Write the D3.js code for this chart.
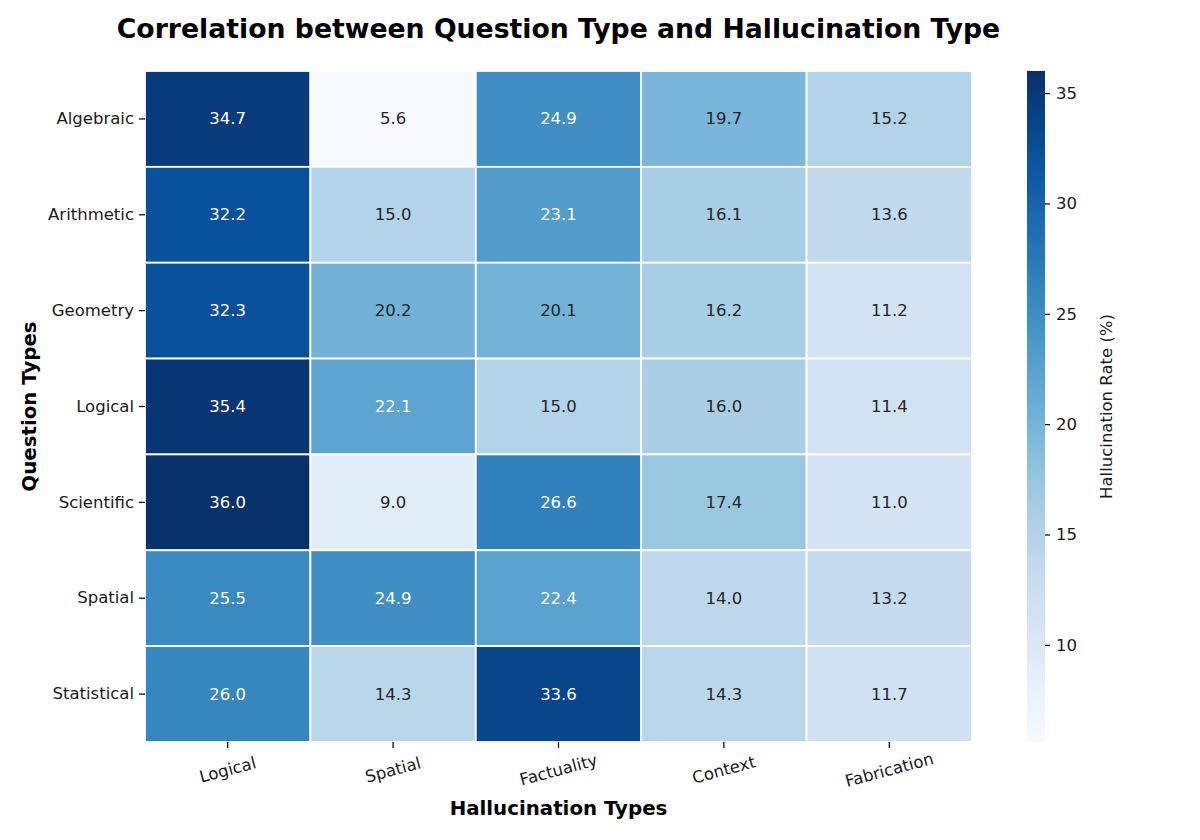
<!DOCTYPE html>
<html>
<head>
<meta charset="utf-8">
<script src="https://cdn.jsdelivr.net/npm/d3@7"></script>
<style>
  html, body { margin: 0; padding: 0; background: #fff; }
  svg text { font-family: "DejaVu Sans", sans-serif; }
</style>
</head>
<body>
<div id="chart"></div>
<script>
// 資料
const questionTypes = ['Algebraic', 'Arithmetic', 'Geometry', 'Logical', 'Scientific', 'Spatial', 'Statistical'];
const hallucinationTypes = ['Logical', 'Spatial', 'Factuality', 'Context', 'Fabrication'];
const rates = [
  [34.7, 5.6, 24.9, 19.7, 15.2],
  [32.2, 15.0, 23.1, 16.1, 13.6],
  [32.3, 20.2, 20.1, 16.2, 11.2],
  [35.4, 22.1, 15.0, 16.0, 11.4],
  [36.0, 9.0, 26.6, 17.4, 11.0],
  [25.5, 24.9, 22.4, 14.0, 13.2],
  [26.0, 14.3, 33.6, 14.3, 11.7]
];
const colorbarTicks = [10, 15, 20, 25, 30, 35];

const W = 1200, H = 840;
const margin = {top: 71, left: 145};
const plotW = 827, plotH = 671;

const svg = d3.select('#chart').append('svg')
  .attr('width', W).attr('height', H);

// Blues 色階（分段線性）
const vmin = d3.min(rates.flat()), vmax = d3.max(rates.flat());
const blues = ['#f7fbff', '#deebf7', '#c6dbef', '#9ecae1', '#6baed6', '#4292c6', '#2171b5', '#08519c', '#08306b'];
const color = d3.scaleLinear()
  .domain(blues.map((_, i) => vmin + (vmax - vmin) * i / (blues.length - 1)))
  .range(blues)
  .interpolate(d3.interpolateRgb)
  .clamp(true);

const x = d3.scaleBand().domain(hallucinationTypes).range([0, plotW]);
const y = d3.scaleBand().domain(questionTypes).range([0, plotH]);

function luminance(c) {
  const rgb = d3.rgb(c);
  const f = v => { v /= 255; return v <= 0.03928 ? v / 12.92 : Math.pow((v + 0.055) / 1.055, 2.4); };
  return 0.2126 * f(rgb.r) + 0.7152 * f(rgb.g) + 0.0722 * f(rgb.b);
}

const cells = [];
rates.forEach((row, i) => row.forEach((v, j) => cells.push({q: questionTypes[i], h: hallucinationTypes[j], v})));

const g = svg.append('g').attr('transform', `translate(${margin.left},${margin.top})`);

// 格子
g.selectAll('rect.cell').data(cells).enter().append('rect')
  .attr('class', 'cell')
  .attr('x', d => x(d.h))
  .attr('y', d => y(d.q))
  .attr('width', x.bandwidth())
  .attr('height', y.bandwidth())
  .attr('fill', d => color(d.v))
  .attr('stroke', '#fff')
  .attr('stroke-width', 1.8);

// 數值標註
g.selectAll('text.anno').data(cells).enter().append('text')
  .attr('class', 'anno')
  .attr('x', d => x(d.h) + x.bandwidth() / 2)
  .attr('y', d => y(d.q) + y.bandwidth() / 2)
  .attr('text-anchor', 'middle')
  .attr('dominant-baseline', 'central')
  .attr('font-size', 16.5)
  .attr('fill', d => luminance(color(d.v)) > 0.37 ? '#262626' : '#fff')
  .text(d => d.v.toFixed(1));

// Y 軸
const yAxis = g.append('g').call(d3.axisLeft(y).tickSize(6).tickPadding(5));
yAxis.select('.domain').remove();
yAxis.selectAll('.tick line').attr('stroke', '#000').attr('stroke-width', 1.2);
yAxis.selectAll('.tick text').attr('font-size', 16.5).attr('fill', '#1a1a1a')
  .attr('font-family', '"DejaVu Sans", sans-serif');

// X 軸
const xAxis = g.append('g').attr('transform', `translate(0,${plotH})`)
  .call(d3.axisBottom(x).tickSize(6).tickPadding(5));
xAxis.select('.domain').remove();
xAxis.selectAll('.tick line').attr('stroke', '#000').attr('stroke-width', 1.2);
xAxis.selectAll('.tick text')
  .attr('font-size', 16.5).attr('fill', '#1a1a1a')
  .attr('font-family', '"DejaVu Sans", sans-serif')
  .attr('y', 0).attr('dy', 0)
  .attr('text-anchor', 'middle')
  .attr('dominant-baseline', 'central')
  .attr('transform', 'translate(0,28) rotate(-15)');

// 標題與軸標籤
svg.append('text')
  .attr('x', margin.left + plotW / 2).attr('y', 38)
  .attr('text-anchor', 'middle')
  .attr('font-size', 26.7).attr('font-weight', 'bold')
  .text('Correlation between Question Type and Hallucination Type');

svg.append('text')
  .attr('x', margin.left + plotW / 2).attr('y', 815)
  .attr('text-anchor', 'middle')
  .attr('font-size', 19.8).attr('font-weight', 'bold')
  .text('Hallucination Types');

svg.append('text')
  .attr('transform', `translate(36,${margin.top + plotH / 2}) rotate(-90)`)
  .attr('text-anchor', 'middle')
  .attr('font-size', 19.8).attr('font-weight', 'bold')
  .text('Question Types');

// 色條
const cbX = 1027, cbW = 18;
const cbScale = d3.scaleLinear().domain([vmin, vmax]).range([margin.top + plotH, margin.top]);
const defs = svg.append('defs');
const grad = defs.append('linearGradient').attr('id', 'cbgrad')
  .attr('x1', 0).attr('y1', 1).attr('x2', 0).attr('y2', 0);
d3.range(0, 1.0001, 0.05).forEach(t => {
  grad.append('stop').attr('offset', t).attr('stop-color', color(vmin + t * (vmax - vmin)));
});
svg.append('rect')
  .attr('x', cbX).attr('y', margin.top)
  .attr('width', cbW).attr('height', plotH)
  .attr('fill', 'url(#cbgrad)');

const cbAxis = svg.append('g').attr('transform', `translate(${cbX + cbW},0)`)
  .call(d3.axisRight(cbScale).tickValues(colorbarTicks).tickSize(5).tickPadding(6));
cbAxis.select('.domain').remove();
cbAxis.selectAll('.tick line').attr('stroke', '#000').attr('stroke-width', 1.2);
cbAxis.selectAll('.tick text').attr('font-size', 16.5).attr('fill', '#1a1a1a')
  .attr('font-family', '"DejaVu Sans", sans-serif');

svg.append('text')
  .attr('transform', `translate(1106,${margin.top + plotH / 2}) rotate(-90)`)
  .attr('text-anchor', 'middle')
  .attr('dominant-baseline', 'central')
  .attr('font-size', 16.5)
  .attr('fill', '#1a1a1a')
  .text('Hallucination Rate (%)');
</script>
</body>
</html>
